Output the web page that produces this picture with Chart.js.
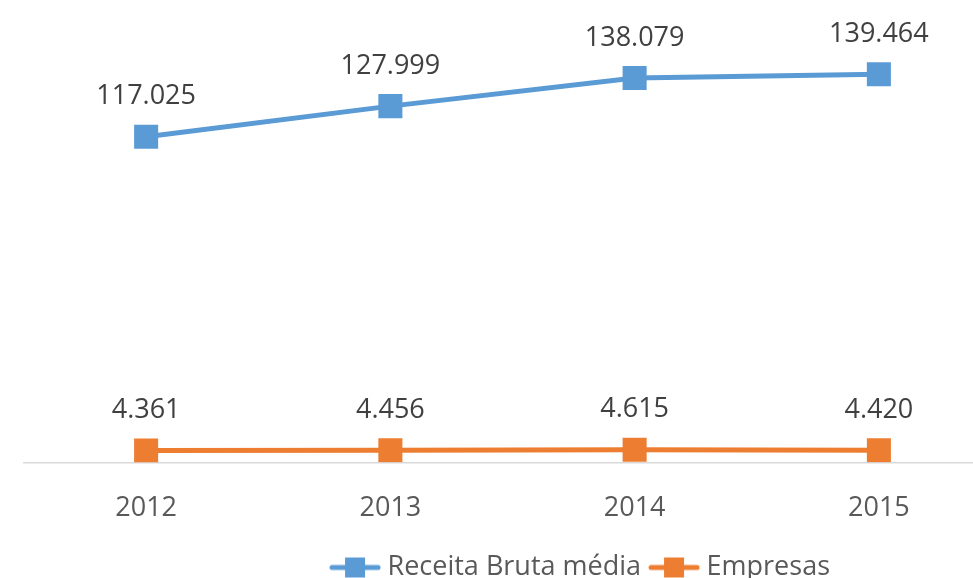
<!DOCTYPE html>
<html>
<head>
<meta charset="utf-8">
<script src="https://cdn.jsdelivr.net/npm/chart.js@4/dist/chart.umd.min.js"></script>
<style>
html,body{margin:0;padding:0;width:973px;height:578px;overflow:hidden;background:#fff;}
canvas{display:block;}
</style>
</head>
<body>
<canvas id="c" width="1142" height="591"></canvas>
<script>
const categories = ['2012', '2013', '2014', '2015'];
const receitaBrutaMedia = [117025, 127999, 138079, 139464];
const empresas = [4361, 4456, 4615, 4420];
const seriesNames = ['Receita Bruta média', 'Empresas'];

const BLUE = '#5B9BD5';
const ORANGE = '#ED7D31';
const FONT = "'Open Sans', sans-serif";

function fmt(v){ return String(v).replace(/\B(?=(\d{3})+(?!\d))/g, '.'); }

function legendIcon(color){
  const c = document.createElement('canvas');
  c.width = 52; c.height = 22;
  const x = c.getContext('2d');
  x.strokeStyle = color; x.lineWidth = 5; x.lineCap = 'round';
  x.beginPath(); x.moveTo(3, 11); x.lineTo(49, 11); x.stroke();
  x.fillStyle = color; x.fillRect(16, 1, 20, 20);
  return c;
}
const icons = [legendIcon(BLUE), legendIcon(ORANGE)];

const dataLabels = {
  id: 'dataLabels',
  afterDatasetsDraw(chart){
    const ctx = chart.ctx;
    ctx.save();
    ctx.font = '27px ' + FONT;
    ctx.fillStyle = '#404040';
    ctx.textAlign = 'center';
    ctx.textBaseline = 'middle';
    chart.data.datasets.forEach((ds, i) => {
      chart.getDatasetMeta(i).data.forEach((pt, j) => {
        ctx.fillText(fmt(ds.data[j]), pt.x, pt.y - 40);
      });
    });
    ctx.restore();
  }
};

new Chart(document.getElementById('c'), {
  type: 'line',
  data: {
    labels: categories,
    datasets: [
      {label: seriesNames[0], data: receitaBrutaMedia, borderColor: BLUE, backgroundColor: BLUE,
       borderWidth: 5, pointStyle: 'rect', pointRadius: 17, pointBorderWidth: 0, tension: 0},
      {label: seriesNames[1], data: empresas, borderColor: ORANGE, backgroundColor: ORANGE,
       borderWidth: 5, pointStyle: 'rect', pointRadius: 17, pointBorderWidth: 0, tension: 0}
    ]
  },
  options: {
    responsive: false,
    animation: false,
    layout: {padding: {left: 24, top: 15.6, right: 0, bottom: 0}},
    plugins: {
      tooltip: {enabled: false},
      legend: {
        position: 'bottom',
        labels: {
          usePointStyle: true,
          pointStyleWidth: 38,
          padding: 14,
          color: '#595959',
          font: {family: FONT, size: 27},
          generateLabels(chart){
            return chart.data.datasets.map((ds, i) => ({
              text: ds.label, pointStyle: icons[i], fillStyle: ds.borderColor,
              strokeStyle: ds.borderColor, lineWidth: 0, fontColor: '#595959', datasetIndex: i, hidden: false
            }));
          }
        }
      }
    },
    scales: {
      x: {
        offset: true,
        grid: {display: false},
        border: {display: true, color: '#D9D9D9', width: 1.5},
        ticks: {padding: 22, color: '#595959', font: {family: FONT, size: 27}},
        afterFit(s){ s.height = 77.4; }
      },
      y: {
        position: 'right',
        min: 0, max: 160000,
        grid: {display: false},
        border: {display: false},
        ticks: {display: false},
        afterFit(s){ s.width = 141; }
      }
    }
  },
  plugins: [dataLabels]
});
</script>
</body>
</html>
